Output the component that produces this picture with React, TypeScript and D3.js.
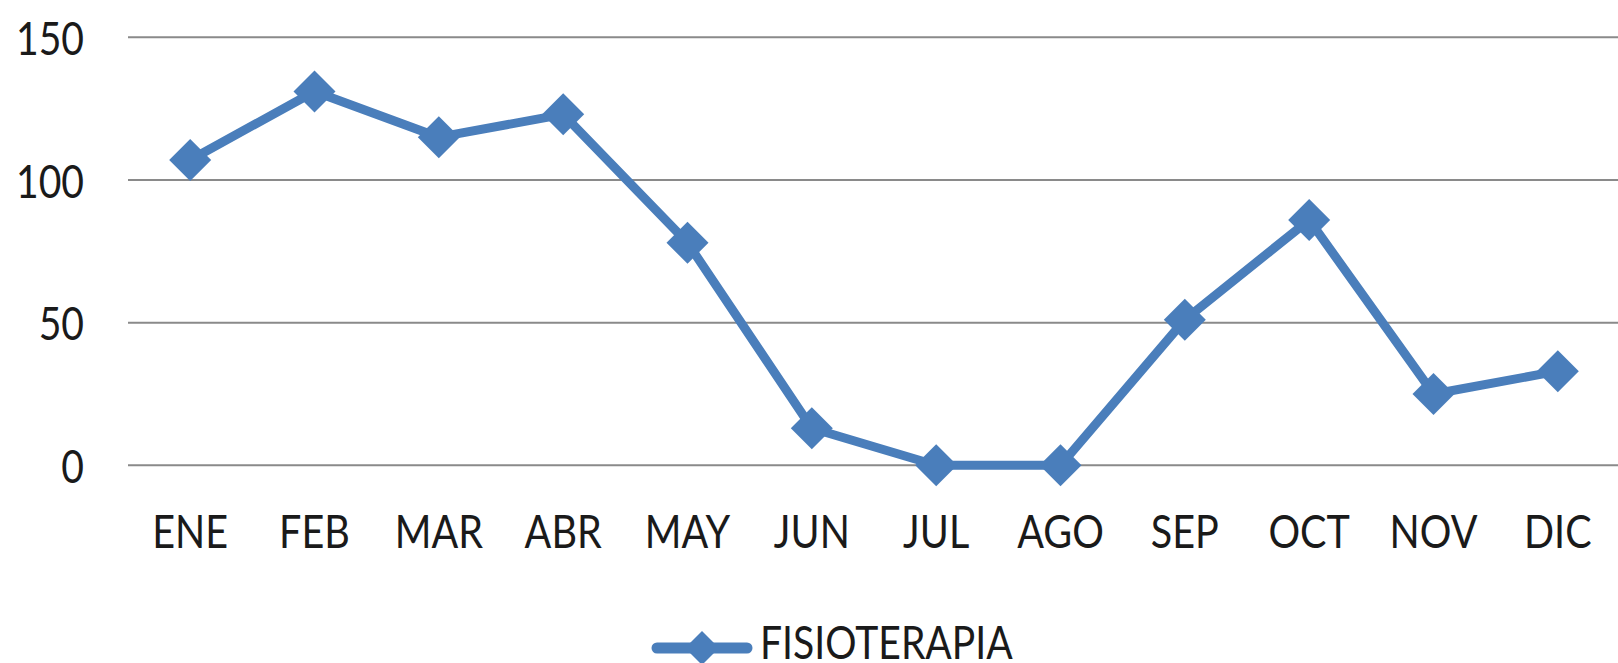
import React from "react";
import * as d3 from "d3";

const months = ["ENE", "FEB", "MAR", "ABR", "MAY", "JUN", "JUL", "AGO", "SEP", "OCT", "NOV", "DIC"];
const values = [107, 131, 115, 123, 78, 13, 0, 0, 51, 86, 25, 33];
const yTicks = [0, 50, 100, 150];
const seriesName = "FISIOTERAPIA";

const W = 1618;
const H = 663;
const plotLeft = 128;
const plotRight = 1620;
const yTop = 37.3;
const yBottom = 465.3;
const color = "#4A7EBB";
const font = "Lato, 'Open Sans', sans-serif";

function diamond(cx: number, cy: number, r: number) {
  return `M${cx},${cy - r}L${cx + r},${cy}L${cx},${cy + r}L${cx - r},${cy}Z`;
}

export default function App() {
  const x = d3.scaleBand<string>().domain(months).range([plotLeft, plotRight]);
  const y = d3.scaleLinear().domain([0, 150]).range([yBottom, yTop]);
  const cx = (m: string) => (x(m) as number) + x.bandwidth() / 2;
  const line = d3
    .line<number>()
    .x((_, i) => cx(months[i]))
    .y((d) => y(d));

  const legendX = 702;
  const legendY = 648;

  return (
    <svg
      width={W}
      height={H}
      style={{ position: "absolute", left: 0, top: 0, background: "#fff" }}
      fontFamily={font}
    >
      <rect width={W} height={H} fill="#fff" />
      {yTicks.map((t) => (
        <g key={t}>
          <line x1={plotLeft} x2={W} y1={y(t)} y2={y(t)} stroke="#8a8a8a" strokeWidth={2} />
          <text
            transform={`translate(84,${y(t)}) scale(0.85,1)`}
            textAnchor="end"
            dominantBaseline="central"
            fontSize={46}
            fill="#1a1a1a"
          >
            {t}
          </text>
        </g>
      ))}
      {months.map((m) => (
        <text
          key={m}
          transform={`translate(${cx(m)},548) scale(0.86,1)`}
          textAnchor="middle"
          fontSize={46}
          fill="#1a1a1a"
        >
          {m}
        </text>
      ))}
      <path d={line(values) || ""} fill="none" stroke={color} strokeWidth={9} strokeLinejoin="round" />
      {values.map((v, i) => (
        <path key={i} d={diamond(cx(months[i]), y(v), 21)} fill={color} />
      ))}
      <line x1={legendX - 45} x2={legendX + 45} y1={legendY} y2={legendY} stroke={color} strokeWidth={11} strokeLinecap="round" />
      <path d={diamond(legendX, legendY, 17)} fill={color} />
      <text
        transform={`translate(760,659) scale(0.85,1)`}
        fontSize={46}
        fill="#1a1a1a"
      >
        {seriesName}
      </text>
    </svg>
  );
}
